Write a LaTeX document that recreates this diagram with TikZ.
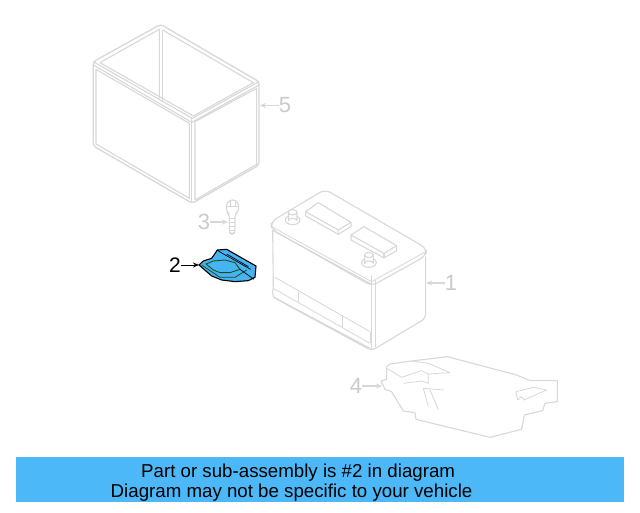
\documentclass[tikz,border=0pt]{standalone}
\usepackage{fontspec}
\setmainfont{Liberation Sans}
\definecolor{ghost}{HTML}{D8D8D8}
\definecolor{ghosttext}{HTML}{CBCBCB}
\definecolor{banner}{HTML}{4DB8F8}
\definecolor{partblue}{HTML}{45B4F2}
\definecolor{darkgreen}{HTML}{1F4A20}
\tikzset{
  gl/.style={draw=ghost,line width=1.1pt,line join=round},
  gt/.style={draw=ghost,line width=0.8pt,line join=round},
  gfill/.style={gl,fill=white},
  ghostlabel/.style={text=ghosttext,font=\fontsize{22}{22}\selectfont,inner sep=0pt},
  blacklabel/.style={text=black,font=\fontsize{21}{21}\selectfont,inner sep=0pt},
  ghostarrow/.style={draw=ghost,line width=1.1pt,-{Stealth[length=6pt,width=5pt]}},
  blackarrow/.style={draw=black,line width=1pt,-{Stealth[length=6pt,width=5pt]}},
  bannertext/.style={text=black,font=\fontsize{18.7}{20}\selectfont,inner sep=0pt,anchor=base west}
}
\usetikzlibrary{arrows.meta}
\begin{document}
\begin{tikzpicture}[x=1pt,y=-1pt]
\useasboundingbox (0,0) rectangle (640,512);
\fill[white] (0,0) rectangle (640,512);
% box 5
\begin{scope}[xshift=80pt,yshift=-10pt,x=0.3333pt,y=-0.3333pt]
\draw[gl,line width=1.3pt,rounded corners=3pt] (242,43)--(537,215)--(537,465)--(337,580)--(40,408)--(40,155)--cycle;
\draw[gl] (40,165)--(335,337)--(537,225);
\draw[gl] (40,155)--(337,325)--(537,215);
\draw[gl] (335,325)--(335,578);
\draw[gl] (345,335)--(345,570)--(530,463)--(530,235)--(345,335);
\draw[gl] (48,178)--(328,340)--(328,565)--(48,402)--cycle;
\draw[gl] (60,158)--(238,58)--(238,265);
\draw[gl] (248,60)--(248,272);
\draw[gl] (248,60)--(520,218)--(340,318)--(60,158);
\end{scope}
% battery 1
\begin{scope}[xshift=260pt,yshift=-180pt,x=0.3333pt,y=-0.3333pt]
\draw[gl,rounded corners=4pt] (38,150)--(40,325)--(36,350)--(335,512)--(497,415)--(497,230);
\draw[gl,rounded corners=6pt] (195,28)--(500,205)--(497,228)--(335,318)--(35,148)--(33,125)--cycle;
\draw[gt] (35,140)--(335,305)--(497,215);
\draw[gl] (36,150)--(335,313);
\draw[gl] (335,285)--(335,510);
\draw[gt] (345,300)--(345,500);
\draw[gt] (40,325)--(330,490);
\draw[gl] (42,352)--(330,505);
\draw[gt] (115,335)--(115,368);
\draw[gt] (248,405)--(248,440);
\draw[gt] (330,455)--(330,490);
\draw[gt] (45,292)--(330,455);
% vents
\draw[gfill] (137,95)--(175,68)--(273,127)--(273,140)--(235,163)--(137,108)--cycle;
\draw[gl] (137,95)--(235,150)--(273,127);
\draw[gl] (235,150)--(235,163);
\draw[gfill] (273,165)--(312,140)--(410,197)--(410,212)--(372,234)--(273,180)--cycle;
\draw[gl] (273,165)--(372,220)--(410,197);
\draw[gl] (372,220)--(372,234);
% terminals
\draw[gl] (98,120) ellipse [x radius=22,y radius=14];
\draw[gfill] (85,97)--(85,122) arc[start angle=180,end angle=360,x radius=13,y radius=7]--(111,97);
\draw[gfill] (98,97) ellipse [x radius=13,y radius=8];
\draw[gl] (327,248) ellipse [x radius=22,y radius=14];
\draw[gfill] (314,225)--(314,250) arc[start angle=180,end angle=360,x radius=13,y radius=7]--(340,225);
\draw[gfill] (327,225) ellipse [x radius=13,y radius=8];
\end{scope}
\begin{scope}[xshift=180pt,yshift=-190pt,x=0.3333pt,y=-0.3333pt]
% bolt 3
\draw[gl,rounded corners=3pt] (138,45)--(148,30)--(167,30)--(177,45)--(175,66)--(165,72)--(165,128)--(156,133)--(148,128)--(148,72)--(140,66)--cycle;
\draw[gt] (140,48)--(175,48);
\draw[gt] (150,32)--(150,48);
\draw[gt] (165,32)--(165,48);
\draw[gt] (148,84)--(165,84);
\draw[gt] (148,96)--(165,96);
\draw[gt] (148,108)--(165,108);
\draw[gt] (148,120)--(165,120);
% part 2
\draw[fill=partblue,draw=black,line width=1.1pt,line join=round] (112,180)--(140,178)--(228,228)--(225,262)--(205,272)--(165,275)--(125,270)--(95,258)--(57,225)--(70,213)--(95,205)--cycle;
\draw[black,line width=0.7pt] (112,180)--(120,186)--(212,238);
\draw[black,line width=0.7pt] (140,192)--(205,230);
\draw[darkgreen,line width=0.9pt] (78,222)--(100,213)--(135,210)--(165,218)--(180,238)--(150,248)--(120,248)--(100,240)--cycle;
\draw[darkgreen,line width=0.8pt] (65,225)--(120,262)--(165,262)--(200,240);
\draw[black,line width=0.7pt] (180,238)--(222,268);
\end{scope}
% part 4
\begin{scope}[xshift=340pt,yshift=-350pt,x=0.3333pt,y=-0.3333pt]
\draw[gl] (140,50)--(150,42)--(215,33)--(322,20)--(530,75)--(570,92)--(652,92)--(652,155)--(615,160)--(608,182)--(553,195)--(545,238)--(450,262)--(228,208)--(225,188)--(190,183)--(155,125)--(135,118)--(123,93)--(140,88)--cycle;
\draw[gt] (140,55)--(185,82)--(245,62)--(265,72)--(330,68)--(265,40)--(215,33);
\draw[gt] (190,100)--(245,93)--(265,100)--(265,72);
\draw[gt] (250,115)--(265,170);
\draw[gt] (270,120)--(295,178);
\draw[gt] (250,115)--(312,120);
\draw[gt] (528,125)--(580,112)--(620,120)--(552,150)--(545,140)--(533,150)--cycle;
\end{scope}
% labels
\node[ghostlabel] (n5) at (285,105.5) {5};
\coordinate (t5) at (260,105.5);
\draw[ghostarrow] (n5.west) -- (t5);
\node[ghostlabel] (n3) at (204,222) {3};
\coordinate (t3) at (228,222);
\draw[ghostarrow] (n3.east) -- (t3);
\node[ghostlabel] (n1) at (451,283) {1};
\coordinate (t1) at (426,283);
\draw[ghostarrow] (n1.west) -- (t1);
\node[ghostlabel] (n4) at (356,386) {4};
\coordinate (t4) at (382,386);
\draw[ghostarrow] (n4.east) -- (t4);
\node[blacklabel] (n2) at (175,265) {2};
\coordinate (t2) at (199,265);
\draw[blackarrow] (n2.east) -- (t2);
% banner
\node[fill=banner,minimum width=608pt,minimum height=45pt,inner sep=0pt,anchor=north west] (bar) at (16,457) {};
\node[bannertext] (l1) at (141,477) {Part or sub-assembly is \#2 in diagram};
\node[bannertext] (l2) at (110.5,497) {Diagram may not be specific to your vehicle};
\end{tikzpicture}
\end{document}
